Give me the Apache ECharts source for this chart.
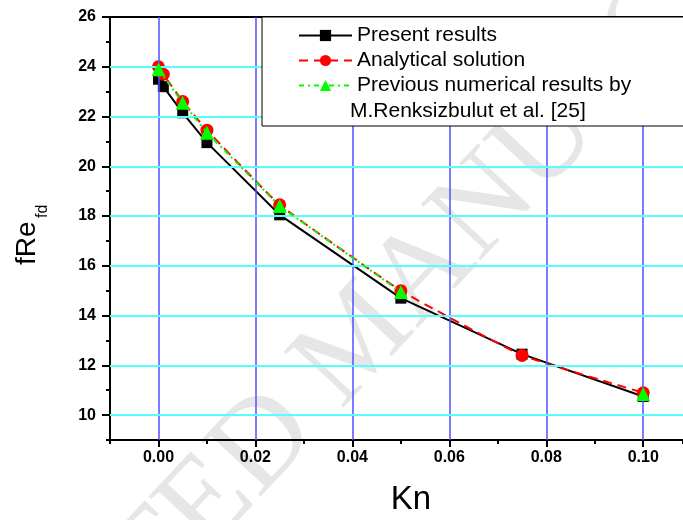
<!DOCTYPE html>
<html>
<head>
<meta charset="utf-8">
<script src="https://cdn.jsdelivr.net/npm/echarts@6/dist/echarts.min.js"></script>
<style>
  html, body { margin: 0; padding: 0; background: #fff; }
  #chart { width: 683px; height: 520px; }
</style>
</head>
<body>
<div id="chart"></div>
<script>
// Friction factor (fRe_fd) versus Knudsen number
const knPresent = [0, 0.001, 0.005, 0.01, 0.025, 0.05, 0.075, 0.1];
const presentResults = [23.5, 23.2, 22.15, 20.95, 18.05, 14.7, 12.45, 10.75];

const knAnalytical = [0, 0.001, 0.005, 0.01, 0.025, 0.05, 0.075, 0.1];
const analyticalSolution = [24.0, 23.7, 22.6, 21.45, 18.45, 15.0, 12.4, 10.9];

// no value at Kn = 0.075, so the dash-dot line stops at 0.05
const knPrevious = [0, 0.005, 0.01, 0.025, 0.05, 0.075, 0.1];
const previousNumerical = [23.9, 22.55, 21.35, 18.4, 14.95, null, 10.85];

const xTickLabels = [0, 0.02, 0.04, 0.06, 0.08, 0.1];
const yTickLabels = [10, 12, 14, 16, 18, 20, 22, 24, 26];
const xGridLines = [0, 0.02, 0.04, 0.06, 0.08, 0.1];
const yGridLines = [10, 12, 14, 16, 18, 20, 22, 24];

const seriesNames = [
  'Present results',
  'Analytical solution',
  'Previous numerical results by'
];

const pairs = (xs, ys) => xs.map((x, i) => [x, ys[i]]);

const X_MIN = -0.01, X_MAX = 0.1082, Y_MIN = 9, Y_MAX = 26;
const tickFont = { fontFamily: 'Arial, "Liberation Sans", sans-serif', fontWeight: 'bold', fontSize: 16, color: '#000' };
const axisLine = { show: true, onZero: false, lineStyle: { color: '#000', width: 2 } };

const chart = echarts.init(document.getElementById('chart'), null, { renderer: 'canvas' });

chart.setOption({
  animation: false,
  backgroundColor: '#fff',
  grid: { left: 110, right: 0, top: 17, bottom: 80, containLabel: false },
  xAxis: [
    {
      type: 'value', min: X_MIN, max: X_MAX, interval: 0.01,
      axisLine: axisLine,
      axisTick: { show: true, length: 4, lineStyle: { color: '#000', width: 2 } },
      axisLabel: { customValues: xTickLabels, formatter: v => v.toFixed(2), margin: 10, ...tickFont },
      splitLine: { show: false }
    },
    {
      type: 'value', min: X_MIN, max: X_MAX, position: 'bottom',
      axisLine: { show: false, onZero: false },
      axisTick: { show: true, customValues: xTickLabels, length: 7, lineStyle: { color: '#000', width: 2 } },
      axisLabel: { show: false },
      splitLine: { show: false }
    },
    {
      type: 'value', min: X_MIN, max: X_MAX, position: 'top',
      axisLine: axisLine,
      axisTick: { show: false }, axisLabel: { show: false }, splitLine: { show: false }
    }
  ],
  yAxis: [
    {
      type: 'value', min: Y_MIN, max: Y_MAX, interval: 1,
      axisLine: axisLine,
      axisTick: { show: true, length: 4, lineStyle: { color: '#000', width: 2 } },
      axisLabel: { customValues: yTickLabels, margin: 14, ...tickFont },
      splitLine: { show: false }
    },
    {
      type: 'value', min: Y_MIN, max: Y_MAX, position: 'left',
      axisLine: { show: false, onZero: false },
      axisTick: { show: true, customValues: yTickLabels, length: 8, lineStyle: { color: '#000', width: 2 } },
      axisLabel: { show: false },
      splitLine: { show: false }
    }
  ],
  legend: {
    data: seriesNames,
    orient: 'vertical',
    left: 262, top: 17,
    z: 20,
    padding: [8, 60, 30, 36],
    itemGap: 4,
    itemWidth: 53, itemHeight: 14,
    backgroundColor: '#fff',
    borderColor: '#000', borderWidth: 1,
    selectedMode: false,
    textStyle: { fontFamily: 'Arial, "Liberation Sans", sans-serif', fontSize: 21, color: '#000' }
  },
  graphic: [
    {
      type: 'text', z: -10, silent: true,
      x: -145, y: 883, rotation: 0.82,
      style: {
        text: 'ACCEPTED MANUSCRIPT', fill: '#e6e6e6',
        font: '125px "Liberation Serif", "Times New Roman", serif',
        align: 'left', verticalAlign: 'middle'
      }
    },
    {
      type: 'text', z: 100, zlevel: 0, x: 350, y: 111,
      style: {
        text: 'M.Renksizbulut et al. [25]', fill: '#000',
        font: '21px Arial, "Liberation Sans", sans-serif',
        align: 'left', verticalAlign: 'middle'
      }
    },
    {
      type: 'text', x: 411, y: 500,
      style: {
        text: 'Kn', fill: '#000',
        font: '33px Arial, "Liberation Sans", sans-serif',
        align: 'center', verticalAlign: 'middle'
      }
    },
    {
      type: 'text', x: 27, y: 265, rotation: Math.PI / 2,
      style: {
        text: 'fRe', fill: '#000',
        font: '28px Arial, "Liberation Sans", sans-serif',
        align: 'left', verticalAlign: 'middle'
      }
    },
    {
      type: 'text', x: 43, y: 218, rotation: Math.PI / 2,
      style: {
        text: 'fd', fill: '#000',
        font: '16px Arial, "Liberation Sans", sans-serif',
        align: 'left', verticalAlign: 'middle'
      }
    }
  ],
  series: [
    {
      // grid lines: blue verticals at the labelled Kn ticks, cyan horizontals at the labelled fRe ticks
      name: 'grid', type: 'line', data: [], z: 1, silent: true,
      markLine: {
        silent: true, symbol: ['none', 'none'], animation: false,
        label: { show: false },
        emphasis: { disabled: true },
        data: [
          ...xGridLines.map(v => ({ xAxis: v, lineStyle: { color: '#5050ff', width: 1.5, type: 'solid' } })),
          ...yGridLines.map(v => ({ yAxis: v, lineStyle: { color: '#55ffff', width: 2, type: 'solid' } }))
        ]
      }
    },
    {
      name: seriesNames[0], type: 'line', z: 3,
      data: pairs(knPresent, presentResults),
      symbol: 'rect', symbolSize: 11,
      itemStyle: { color: '#000' },
      lineStyle: { color: '#000', width: 2 }
    },
    {
      name: seriesNames[1], type: 'line', z: 4, smooth: 0.1,
      data: pairs(knAnalytical, analyticalSolution),
      symbol: 'circle', symbolSize: 13,
      itemStyle: { color: '#ff0000' },
      lineStyle: { color: '#ff0000', width: 2, type: [9, 6] }
    },
    {
      name: seriesNames[2], type: 'line', z: 5, connectNulls: false,
      data: pairs(knPrevious, previousNumerical),
      symbol: 'triangle', symbolSize: 14,
      itemStyle: { color: '#00ff00' },
      lineStyle: { color: '#00ff00', width: 2, type: [5, 4, 2, 4] }
    }
  ]
});
</script>
</body>
</html>
